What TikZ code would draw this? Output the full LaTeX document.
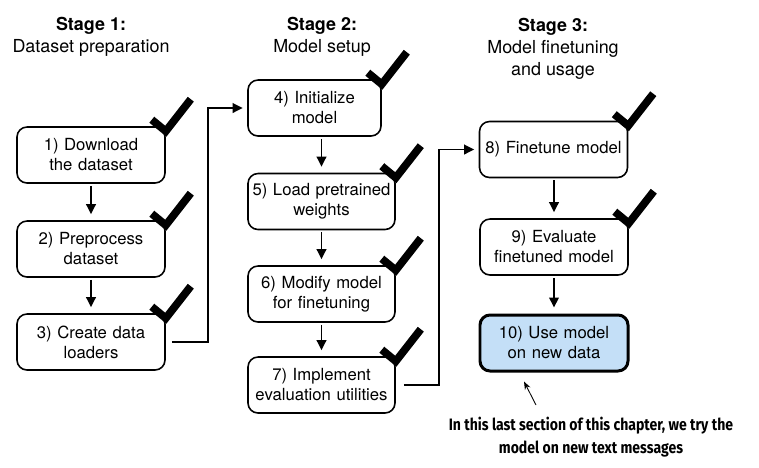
\documentclass[tikz,border=0pt]{standalone}
\usepackage{fontspec}
\setmainfont{TeX Gyre Heros}
\newfontfamily\notefont[FakeStretch=0.85]{Fira Sans}
\usetikzlibrary{arrows.meta}
\definecolor{usageblue}{RGB}{196,223,247}

\newcommand\donemark[1]{%
  \draw[tickmark] ([shift={(-0.28,0.13)}]#1.north east)
    -- ([shift={(0,-0.1)}]#1.north east) -- ++(0.5,0.64);}

\begin{document}
\begin{tikzpicture}[
    task/.style={draw=black,rounded corners=2mm,line width=0.9pt,align=center,
                 minimum height=11.2mm,text width=#1,inner sep=0pt,fill=white,
                 font=\fontsize{9.5}{11.4}\selectfont},
    task/.default=29.6mm,
    current/.style={task,fill=usageblue,line width=1.7pt},
    stagehead/.style={align=center,font=\fontsize{10.2}{12.5}\selectfont},
    flow/.style={-{Triangle[length=2mm,width=1.9mm]},line width=1.1pt},
    tickmark/.style={line width=4.4pt,line join=miter},
    notetext/.style={align=center,font=\notefont\bfseries\fontsize{9.4}{13}\selectfont}
  ]
    \useasboundingbox (0,0) rectangle (15.18,-9.34);

    \node[stagehead] (head1) at (1.82,-0.74) {\textbf{Stage 1:}\\Dataset preparation};
    \node[stagehead] (head2) at (6.44,-0.74) {\textbf{Stage 2:}\\Model setup};
    \node[stagehead] (head3) at (11.06,-0.98) {\textbf{Stage 3:}\\Model finetuning\\and usage};

    % stage 1
    \node[task] (download) at (1.82,-3.10) {1) Download\\the dataset};
    \node[task] (preprocess) at (1.82,-4.98) {2) Preprocess\\dataset};
    \node[task] (loaders) at (1.82,-6.84) {3) Create data\\loaders};

    % stage 2
    \node[task=26.6mm] (init) at (6.29,-2.16) {4) Initialize\\model};
    \node[task=29.4mm] (weights) at (6.43,-4.03) {5) Load pretrained\\weights};
    \node[task=29.4mm] (modify) at (6.43,-5.88) {6) Modify model\\for finetuning};
    \node[task=29.4mm] (evalutil) at (6.43,-7.70) {7) Implement\\evaluation utilities};

    % stage 3
    \node[task] (finetune) at (11.07,-2.99) {8) Finetune model};
    \node[task] (evaluate) at (11.08,-4.94) {9) Evaluate\\finetuned model};
    \node[current] (usage) at (11.08,-6.86) {10) Use model\\on new data};

    \foreach \stepname in {download,preprocess,loaders,init,weights,modify,evalutil,finetune,evaluate}
      {\donemark{\stepname}}

    \draw[flow,shorten <=0.4mm,shorten >=1.2mm] (download) -- (preprocess);
    \draw[flow,shorten <=0.4mm,shorten >=1.2mm] (preprocess) -- (loaders);
    \draw[flow,shorten <=0.4mm,shorten >=1.2mm] (init.south -| weights.north) -- (weights.north);
    \draw[flow,shorten <=0.4mm,shorten >=1.2mm] (weights) -- (modify);
    \draw[flow,shorten <=0.4mm,shorten >=1.2mm] (modify) -- (evalutil);
    \draw[flow,shorten <=0.4mm,shorten >=1.2mm] (finetune.south -| evaluate.north) -- (evaluate.north);
    \draw[flow,shorten <=0.4mm,shorten >=1.2mm] (evaluate) -- (usage);

    \draw[flow,shorten >=0.9mm] ([xshift=1.2mm]loaders.east) -- ++(0.72,0) |- (init.west);
    \draw[flow,shorten >=0.9mm] ([xshift=1.6mm]evalutil.east) -- ++(0.7,0) |- (finetune.west);

    \node[notetext] (note) at (11.82,-8.75)
      {In this last section of this chapter, we try the\\model on new text messages};
    \coordinate (pointer) at (10.72,-8.10);
    \draw[-{Stealth[length=1.6mm,width=1.2mm]},line width=0.5pt]
      (pointer) -- ([shift={(-0.6,-0.18)}]usage.south);
  \end{tikzpicture}
\end{document}
